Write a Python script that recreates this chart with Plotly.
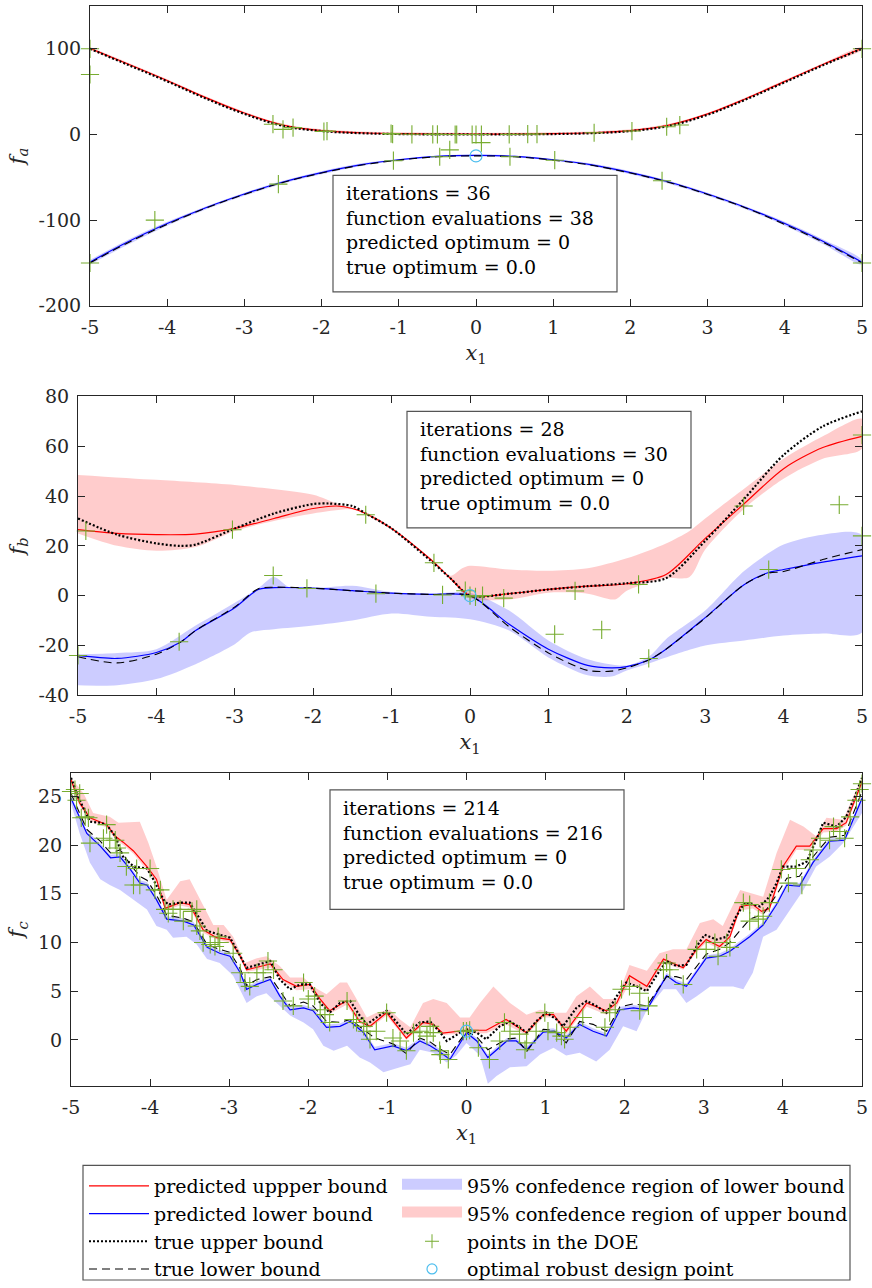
import plotly.graph_objects as go

W, H = 872, 1288
FONT = "DejaVu Serif"
AXC = "#262626"

# ---------------- panel a ----------------
xa = [-5, -4.5, -4, -3.5, -3, -2.5, -2, -1.5, -1, -0.5, 0, 0.5, 1, 1.5, 2, 2.5, 3, 3.5, 4, 4.5, 5]
a_true_up = [100, 81, 62, 42, 24, 10, 4, 1.5, 0.5, 0.1, 0, 0.1, 0.5, 1.5, 4, 10, 23, 41, 61, 81, 100]
a_pred_up = [100.5, 82, 63, 43, 25, 11, 4.5, 2, 1, 0.5, 0.3, 0.5, 1, 2, 4.5, 11, 24, 42, 62, 82, 100.5]
a_bup_hi = [102, 83.5, 64.5, 44.5, 26.5, 12.5, 6, 3.5, 2.5, 2, 1.8, 2, 2.5, 3.5, 6, 12.5, 25.5, 43.5, 63.5, 83.5, 102]
a_bup_lo = [99, 80.5, 61.5, 41.5, 23.5, 9.5, 3, 0.5, -0.5, -1, -1.2, -1, -0.5, 0.5, 3, 9.5, 22.5, 40.5, 60.5, 80.5, 99]
a_true_lo = [-150, -126, -105, -86, -70, -56, -45, -36, -30, -26, -25, -26, -30, -36, -45, -56, -70, -86, -105, -126, -150]
a_pred_lo = [-149, -125, -104, -85.5, -69.5, -55.5, -44.5, -35.5, -29.5, -25.5, -24.5, -25.5, -29.5, -35.5, -44.5, -55.5, -69.5, -85.5, -104, -125, -149]
a_blo_hi = [-146.5, -122.5, -102, -84, -68, -54, -43, -34, -28.5, -24.5, -23.5, -24.5, -28.5, -34, -43, -54, -68, -84, -102, -122.5, -146.5]
a_blo_lo = [-152, -128, -106.5, -87.5, -71.5, -57.5, -46.5, -37, -30.5, -26.5, -25.5, -26.5, -30.5, -37, -46.5, -57.5, -71.5, -87.5, -106.5, -128, -152]
a_doe_x = [-5, -5, -5, -4.16, -2.63, -2.56, -2.5, -2.37, -1.97, -1.93, -1.1, -1.08, -1.07, -0.83, -0.56,
           -0.5, -0.47, -0.34, -0.27, -0.25, -0.05, 0.0, 0.07, 0.07, 0.43, 0.44, 0.67, 0.79, 1.02, 1.53,
           2.02, 2.41, 2.47, 2.64, 5, 5]
a_doe_y = [100, 70, -150, -100, 12, -58, 6, 8, 3.5, 4, 1, 0.5, -30.6, 0.2, 0.1,
           0.1, -26, -18, 0, 0, 0, 0, 0, -9.5, 0.1, -26, 0.3, 0.5, -30, 2,
           4, -54, 9, 11, 100, -150]
a_opt_x = [0]
a_opt_y = [-25]
a_text = ["iterations = 36", "function evaluations = 38", "predicted optimum = 0", "true optimum = 0.0"]

# ---------------- panel b ----------------
b_tu_x = [-5, -4.5, -4, -3.7, -3.5, -3, -2.5, -2, -1.8, -1.5, -1.33, -1, -0.5, -0.25, 0, 0.5, 1, 1.5, 2, 2.5, 3, 3.5, 4, 4.5, 5]
b_tu_y = [31, 24.5, 21, 20, 20.5, 27, 33, 36.8, 37, 36, 33, 27, 14, 7, 0, 0.8, 2.5, 3.8, 5, 7, 22, 39, 56.5, 68, 74]
b_pu_x = [-5, -4.5, -4, -3.5, -3, -2.5, -2, -1.7, -1.5, -1.33, -1, -0.5, -0.25, 0, 0.5, 1, 1.5, 2, 2.5, 3, 3.5, 4, 4.5, 5]
b_pu_y = [26.5, 25, 24.5, 24.7, 27, 31, 35, 36, 35, 33, 27, 14.5, 7, 0, 0.8, 2.5, 3.8, 4.8, 8.5, 23, 37, 51, 59.5, 64]
b_bu_hi_x = [-5, -4, -3, -2, -1.7, -1.33, -1, -0.5, -0.25, -0.1, 0, 0.5, 1, 1.5, 2, 2.5, 2.8, 3, 3.5, 4, 4.5, 5]
b_bu_hi_y = [48.5, 46.5, 44.4, 40.5, 37, 33.5, 27.5, 15, 8, 11, 12, 10.5, 10, 11, 15, 21, 26, 31, 43, 55, 64, 71]
b_bu_lo_x = [-5, -4.5, -4, -3.5, -3, -2.5, -2, -1.5, -1.33, -1, -0.5, -0.25, 0, 0.5, 1, 1.5, 1.85, 2, 2.5, 2.8, 3, 3.5, 4, 4.5, 5]
b_bu_lo_y = [25, 20, 18, 19.5, 26, 30, 33, 34.6, 32.5, 26.5, 14, 6.5, -1, -1.5, 1.2, 0.8, -1.5, 2, 7, 7.5, 18.5, 35, 47, 55, 59]
b_pl_x = [-5, -4.5, -4, -3.7, -3.5, -3, -2.7, -2.5, -2, -1.5, -1, -0.5, 0, 0.5, 1, 1.5, 1.8, 2, 2.3, 2.5, 3, 3.5, 3.8, 4, 4.5, 5]
b_pl_y = [-24, -25.2, -22.8, -18.8, -14, -4.8, 2.5, 3.2, 3, 2, 1, 0.5, 0, -11.5, -21.5, -28, -29, -28.5, -25.5, -21.5, -8.8, 4.5, 9.2, 10.5, 13.5, 16]
b_tl_y = [-24.5, -27, -23.5, -18.8, -14, -4.5, 2.8, 3.4, 3, 2, 1, 0.5, 0, -12.5, -23, -30, -30.3, -29, -25.5, -21.5, -9, 4.5, 9, 9.7, 14.5, 18.5]
b_bl_hi_x = [-5, -4.5, -4, -3.5, -3, -2.7, -2.5, -2.3, -2, -1.5, -1, -0.5, 0, 0.5, 1, 1.5, 2, 2.3, 2.5, 3, 3.5, 4, 4.5, 5]
b_bl_hi_y = [-23.5, -23, -21.5, -12, -2.8, 3, 7.5, 3.3, 3, 4, 1.5, 0.8, 1.2, -6, -18, -25.5, -28, -24, -17.5, -6, 10, 20.5, 24.5, 24.3]
b_bl_lo_x = [-5, -4.5, -4, -3.5, -3, -2.8, -2.5, -2, -1.5, -1, -0.5, 0, 0.5, 1, 1.5, 1.8, 2, 2.3, 2.5, 3, 3.5, 4, 4.5, 5]
b_bl_lo_y = [-36, -36, -33.5, -27.5, -19.5, -14.8, -13.5, -12, -10, -7.2, -8.5, -9.5, -14, -24.8, -32, -32.5, -30, -27, -24.8, -20, -18, -16, -15.2, -14.8]
b_doe_x = [-5, -4.9, -3.71, -3.03, -2.51, -2.08, -1.33, -1.2, -0.46, -0.35, -0.06, 0, 0.07, 0.16, 0.43,
           1.08, 1.34, 1.68, 2.15, 2.28, 3.49, 3.81, 4.71, 5, 5]
b_doe_y = [-24, 26, -18.5, 26.5, 8.1, 2.9, 32.5, 0.8, 13.2, 0.3, 2, 0, -0.5, 0, -1,
           -15.5, 1.9, -13.7, 4.5, -25.2, 36, 10.5, 36.5, 64.5, 24]
b_opt_x = [0]
b_opt_y = [0]
b_text = ["iterations = 28", "function evaluations = 30", "predicted optimum = 0", "true optimum = 0.0"]

# ---------------- panel c ----------------
c_tu_x = [-5, -4.89, -4.76, -4.63, -4.55, -4.44, -4.34, -4.21, -4.04, -3.96, -3.83, -3.77, -3.62, -3.5, -3.37,
          -3.28, -3.12, -2.99, -2.86, -2.78, -2.65, -2.48, -2.36, -2.23, -2.1, -1.98, -1.85, -1.73, -1.6, -1.47,
          -1.35, -1.26, -1.14, -1.01, -0.88, -0.76, -0.59, -0.46, -0.33, -0.25, -0.08, 0, 0.13, 0.25, 0.42,
          0.55, 0.67, 0.76, 0.88, 1.01, 1.14, 1.22, 1.39, 1.52, 1.64, 1.77, 1.9, 2.02, 2.15, 2.28,
          2.4, 2.53, 2.65, 2.78, 2.91, 3.01, 3.16, 3.29, 3.41, 3.52, 3.71, 3.83, 3.92, 4.0, 4.17,
          4.3, 4.42, 4.51, 4.68, 4.8, 4.91, 5.0]
c_tu_y = [26.9, 24.6, 22.4, 22.3, 22.1, 20.9, 18.8, 17.8, 17.6, 16.5, 14.4, 13.9, 14.1, 14.1, 12.4,
          11.2, 10.8, 10.5, 8.6, 7.4, 7.7, 8.1, 6.2, 5.2, 5.7, 5.7, 3.8, 2.8, 3.8, 4.0,
          2.5, 1.6, 2.3, 3.0, 1.8, 0.6, 1.8, 1.9, 0.75, -0.1, 0.75, 1.1, 0.75, 0.07, 1.4,
          1.9, 1.3, 0.75, 1.9, 2.8, 2.1, 1.4, 3.3, 4.0, 3.5, 2.8, 4.5, 5.9, 5.5, 5.0,
          6.6, 8.1, 7.6, 7.7, 9.6, 10.8, 10.3, 10.6, 12.7, 14.1, 13.7, 14.7, 16.1, 17.8, 17.8,
          18.3, 20.5, 22.3, 21.9, 22.9, 25.0, 26.9]
c_pu_x = [-5, -4.89, -4.76, -4.55, -4.44, -4.34, -4.21, -4.04, -3.92, -3.81, -3.62, -3.5, -3.33, -3.16, -2.99,
          -2.86, -2.78, -2.48, -2.32, -2.15, -1.98, -1.85, -1.73, -1.52, -1.35, -1.22, -1.01, -0.76, -0.55, -0.42,
          -0.3, 0, 0.25, 0.5, 0.76, 0.97, 1.1, 1.26, 1.52, 1.77, 1.9, 2.06, 2.28, 2.49, 2.74,
          2.91, 3.03, 3.2, 3.33, 3.46, 3.62, 3.73, 3.83, 4.0, 4.17, 4.34, 4.51, 4.68, 4.8, 5.0]
c_pu_y = [26.7, 24.3, 22.8, 22.1, 20.9, 20.3, 19.4, 17.8, 16.5, 13.5, 14.1, 13.9, 11.3, 10.5, 10.3,
          8.6, 7.2, 7.8, 6.2, 5.5, 5.7, 4.2, 3.0, 4.0, 1.9, 1.4, 2.8, 0.2, 1.8, 1.6,
          0.7, 1.0, 1.0, 2.1, 0.75, 2.6, 2.6, 0.9, 3.8, 3.0, 3.8, 6.6, 5.5, 8.3, 7.4,
          9.3, 10.3, 9.6, 10.6, 13.7, 13.9, 13.2, 13.5, 17.8, 19.9, 19.9, 21.7, 21.7, 22.3, 26.5]
c_bu_hi_x = [-5, -4.84, -4.72, -4.51, -4.4, -4.13, -4.02, -3.92, -3.79, -3.62, -3.5, -3.37, -3.2, -3.07, -2.95,
             -2.8, -2.65, -2.53, -2.36, -2.23, -2.06, -1.94, -1.77, -1.6, -1.51, -1.39, -1.26, -1.14, -0.97, -0.84,
             -0.71, -0.55, -0.42, -0.25, -0.08, 0.04, 0.17, 0.34, 0.55, 0.76, 0.93, 1.1, 1.26, 1.39, 1.56,
             1.73, 1.9, 2.06, 2.28, 2.44, 2.61, 2.78, 2.95, 3.12, 3.24, 3.46, 3.58, 3.75, 3.92, 4.09,
             4.26, 4.42, 4.55, 4.76, 5.0]
c_bu_hi_y = [26.9, 25.3, 23.3, 22.9, 22.3, 22.4, 20.2, 17.8, 14.4, 16.3, 16.5, 14.4, 11.8, 11.8, 10.6,
             7.9, 8.4, 8.6, 7.6, 6.4, 6.4, 5.5, 4.7, 5.9, 5.9, 4.2, 2.3, 2.8, 3.1, 2.1,
             1.3, 3.8, 4.2, 3.8, 2.3, 2.3, 3.8, 5.5, 3.8, 2.6, 3.1, 2.8, 2.8, 4.5, 5.5,
             4.2, 4.2, 7.7, 7.1, 8.9, 9.3, 9.3, 12.0, 12.4, 11.7, 15.4, 15.1, 14.7, 19.2, 22.6,
             21.9, 20.9, 22.8, 22.6, 27.0]
c_bu_lo_y = [26.3, 24.0, 22.5, 21.8, 20.6, 20.0, 19.1, 17.4, 16.2, 13.3, 13.8, 13.6, 11.0, 10.3, 10.0,
             8.3, 7.0, 7.4, 6.0, 5.1, 5.2, 3.9, 2.7, 3.6, 1.7, 1.2, 2.5, 0.0, 1.5, 1.3,
             0.5, 0.7, 0.7, 1.6, 0.5, 2.3, 2.3, 0.6, 3.4, 2.6, 3.4, 5.8, 5.0, 7.9, 7.2,
             9.0, 10.0, 9.3, 10.3, 13.3, 13.5, 12.9, 13.2, 17.3, 19.5, 19.5, 21.3, 21.4, 22.0, 26.2]
c_pl_x = [-5, -4.89, -4.8, -4.63, -4.5, -4.38, -4.25, -4.13, -4.04, -3.92, -3.79, -3.58, -3.45, -3.28, -3.12,
          -2.99, -2.86, -2.78, -2.65, -2.48, -2.36, -2.23, -2.06, -1.94, -1.77, -1.6, -1.47, -1.3, -1.16, -0.93,
          -0.76, -0.59, -0.46, -0.34, -0.21, 0, 0.13, 0.27, 0.51, 0.63, 0.76, 0.97, 1.1, 1.26, 1.43,
          1.6, 1.77, 1.94, 2.11, 2.28, 2.53, 2.65, 2.78, 3.03, 3.2, 3.33, 3.58, 3.75, 3.92, 4.05,
          4.21, 4.38, 4.59, 4.78, 5.0]
c_pl_y = [24.8, 22.9, 21.2, 19.9, 18.7, 18.8, 17.5, 16.1, 15.9, 14.4, 12.4, 12.2, 11.8, 9.5, 8.9,
          8.6, 6.9, 5.2, 5.7, 6.2, 4.5, 3.1, 3.3, 3.0, 1.3, 1.4, 1.9, 0.75, -1.0, -0.6,
          -1.1, -0.1, -0.6, -1.2, -2.0, 0.75, -0.1, -1.8, -0.1, -0.1, -1.0, 0.8, 0.9, 0.2, 1.6,
          0.9, 0.4, 3.1, 3.3, 3.1, 6.6, 5.9, 5.5, 8.4, 8.6, 9.1, 10.6, 11.8, 13.9, 15.9,
          15.8, 18.2, 20.4, 20.5, 24.8]
c_tl_y = [25.3, 23.3, 21.6, 20.4, 19.2, 19.5, 18.0, 16.8, 16.4, 14.9, 12.8, 12.5, 12.1, 9.8, 9.3,
          9.0, 7.3, 5.6, 6.2, 6.5, 5.0, 3.5, 3.9, 3.5, 1.9, 1.8, 2.1, 1.1, 0.2, -0.4,
          -1.4, 0.2, -0.2, -0.9, -1.5, 0.9, 0.3, -1.0, 0.1, 0.2, -1.2, 1.1, 1.0, -0.3, 1.9,
          1.6, 0.9, 3.4, 3.7, 3.5, 6.5, 6.5, 6.2, 8.8, 9.3, 10.0, 12.4, 12.9, 14.9, 16.6,
          16.8, 18.8, 20.8, 21.0, 25.5]
c_bl_hi_y = [25.1, 23.2, 21.5, 20.2, 19.0, 19.1, 17.8, 16.4, 16.2, 14.7, 12.7, 12.5, 12.1, 9.8, 9.2,
             8.9, 7.2, 5.5, 6.0, 6.5, 4.8, 3.4, 3.6, 3.3, 1.6, 1.7, 2.2, 1.0, -0.7, -0.3,
             -0.8, 0.2, -0.3, -0.9, -1.7, 1.0, 0.2, -1.5, 0.2, 0.2, -0.7, 1.1, 1.2, 0.5, 1.9,
             1.2, 0.7, 3.4, 3.6, 3.4, 6.9, 6.2, 5.8, 8.7, 8.9, 9.4, 10.9, 12.1, 14.2, 16.2,
             16.1, 18.5, 20.7, 20.8, 25.1]
c_bl_lo_x = [-5, -4.89, -4.76, -4.63, -4.51, -4.38, -4.21, -4.04, -3.92, -3.79, -3.71, -3.54, -3.41, -3.28, -3.12,
             -2.95, -2.78, -2.65, -2.53, -2.4, -2.23, -2.06, -1.94, -1.81, -1.68, -1.51, -1.35, -1.22, -1.05, -0.84,
             -0.71, -0.59, -0.42, -0.25, -0.13, 0, 0.17, 0.27, 0.38, 0.55, 0.76, 0.93, 1.1, 1.26, 1.43,
             1.64, 1.81, 1.98, 2.15, 2.28, 2.49, 2.65, 2.78, 2.91, 3.08, 3.24, 3.37, 3.5, 3.62, 3.75,
             3.92, 4.09, 4.26, 4.42, 4.59, 4.76, 5.0]
c_bl_lo_y = [24.3, 21.2, 18.2, 16.5, 15.9, 15.4, 14.4, 13.4, 11.7, 11.3, 10.5, 10.6, 9.8, 8.3, 7.9,
             6.6, 3.8, 4.5, 4.8, 3.8, 2.5, 1.8, 1.1, -0.6, -1.1, -0.6, -1.8, -2.3, -3.3, -2.8,
             -2.5, -1.0, -1.3, -2.3, -1.6, -0.3, -1.6, -4.5, -3.7, -2.8, -2.7, -1.5, -0.8, -1.6, -1.3,
             -2.2, -1.0, 1.4, 0.9, 3.1, 5.2, 5.2, 3.8, 4.5, 5.5, 5.5, 5.5, 5.2, 6.9, 10.6,
             11.3, 13.4, 15.4, 17.8, 18.8, 20.2, 23.3]
c_doe_x = [-5, -4.95, -4.89, -4.93, -4.82, -4.78, -4.87, -4.76, -4.59, -4.55, -4.51, -4.44, -4.42, -4.38, -4.3,
           -4.21, -4.13, -4.17, -4.0, -3.94, -3.87, -3.81, -3.77, -3.71, -3.62, -3.58, -3.47, -3.41, -3.41, -3.37,
           -3.33, -3.24, -3.18, -3.14, -3.12, -2.95, -2.86, -2.8, -2.74, -2.65, -2.57, -2.51, -2.44, -2.32, -2.19,
           -2.06, -2.0, -1.92, -1.85, -1.79, -1.73, -1.51, -1.43, -1.39, -1.3, -1.26, -1.22, -1.14, -1.01, -0.93,
           -0.84, -0.76, -0.67, -0.59, -0.5, -0.42, -0.33, -0.46, -0.34, -0.23, -0.04, 0.0, 0.04, 0.15, 0.29,
           0.42, 0.48, 0.55, 0.67, 0.74, 0.76, 0.88, 0.99, 1.03, 1.14, 1.2, 1.24, 1.31, 1.47, 1.75,
           1.81, 1.88, 1.96, 2.06, 2.19, 2.19, 2.3, 2.49, 2.53, 2.57, 2.74, 2.91, 3.03, 3.14, 3.18,
           3.29, 3.33, 3.5, 3.58, 3.58, 3.69, 3.75, 3.83, 3.98, 4.07, 4.24, 4.17, 4.34, 4.38, 4.47,
           4.59, 4.64, 4.72, 4.78, 4.85, 4.93, 4.97, 5.0]
c_doe_y = [25.5, 25.7, 25.3, 24.6, 22.9, 22.8, 22.8, 20.2, 20.7, 22.1, 20.5, 20.5, 19.7, 19.2, 17.8,
           15.9, 15.9, 17.6, 17.6, 15.4, 15.4, 13.4, 13.0, 13.4, 13.4, 12.2, 13.2, 13.4, 11.7, 11.2,
           10.0, 9.8, 9.6, 10.6, 10.0, 8.9, 6.9, 5.9, 5.5, 6.9, 6.9, 8.1, 7.2, 4.0, 3.5,
           5.9, 4.2, 4.5, 3.1, 2.6, 1.8, 4.0, 2.1, 1.8, 1.4, 0.9, 0.07, 0.9, 2.8, 0.2,
           -0.1, -1.1, 0.75, 0.9, 0.4, 0.75, -1.5, 1.4, -1.1, -2.0, 0.9, 0.9, 1.0, -0.8, -2.0,
           -0.1, 1.8, 0.9, 0.6, -1.0, -0.3, 0.9, 2.8, 0.9, 0.75, 0.4, 0.07, 1.3, 2.3, 1.3,
           2.8, 3.1, 5.2, 5.5, 4.8, 3.0, 3.5, 7.2, 7.9, 7.2, 5.7, 9.3, 9.3, 10.0, 8.6,
           10.0, 9.5, 14.1, 13.9, 12.2, 12.4, 12.7, 14.1, 17.5, 16.1, 15.9, 17.6, 18.5, 19.5, 20.7,
           20.5, 21.9, 21.4, 20.7, 22.9, 24.6, 25.7, 26.3]
c_opt_x = [0]
c_opt_y = [0.9]
c_text = ["iterations = 214", "function evaluations = 216", "predicted optimum = 0", "true optimum = 0.0"]

# ---------------- styling ----------------
RED = "rgb(255,0,0)"
BLUE = "rgb(0,0,255)"
RED_FILL = "rgba(255,0,0,0.2)"
BLUE_FILL = "rgba(0,0,255,0.2)"
RED_PATCH = "rgb(255,204,204)"
BLUE_PATCH = "rgb(204,204,255)"
GREEN = "#77AC30"
CYAN = "#4DBEEE"

fig = go.Figure()


def add_panel(k, x_up, y_up, x_pu, y_pu, bu_hx, bu_hy, bu_lx, bu_ly,
              x_tl, y_tl, x_pl, y_pl, bl_hx, bl_hy, bl_lx, bl_ly,
              dx, dy, ox, oy, shape, smooth):
    xr = "x" if k == 1 else f"x{k}"
    yr = "y" if k == 1 else f"y{k}"
    show = (k == 1)
    ls = dict(shape=shape, smoothing=smooth) if shape == "spline" else dict(shape="linear")
    fig.add_trace(go.Scatter(
        x=list(bl_hx) + list(bl_lx)[::-1], y=list(bl_hy) + list(bl_ly)[::-1],
        fill="toself", fillcolor=BLUE_FILL, mode="lines", line=dict(width=0, **ls),
        showlegend=False, xaxis=xr, yaxis=yr, hoverinfo="skip"))
    fig.add_trace(go.Scatter(
        x=list(bu_hx) + list(bu_lx)[::-1], y=list(bu_hy) + list(bu_ly)[::-1],
        fill="toself", fillcolor=RED_FILL, mode="lines", line=dict(width=0, **ls),
        showlegend=False, xaxis=xr, yaxis=yr, hoverinfo="skip"))
    fig.add_trace(go.Scatter(
        x=x_pu, y=y_pu, mode="lines", line=dict(color=RED, width=1.2, **ls),
        name="predicted uppper bound", legend="legend", legendrank=1, showlegend=show,
        xaxis=xr, yaxis=yr))
    fig.add_trace(go.Scatter(
        x=x_pl, y=y_pl, mode="lines", line=dict(color=BLUE, width=1.2, **ls),
        name="predicted lower bound", legend="legend", legendrank=2, showlegend=show,
        xaxis=xr, yaxis=yr))
    fig.add_trace(go.Scatter(
        x=x_up, y=y_up, mode="lines", line=dict(color="black", width=2.2, dash="2px,2px", **ls),
        name="true upper bound", legend="legend", legendrank=3, showlegend=show,
        xaxis=xr, yaxis=yr))
    fig.add_trace(go.Scatter(
        x=x_tl, y=y_tl, mode="lines", line=dict(color="black", width=1.1, dash="8px,5px", **ls),
        name="true lower bound", legend="legend", legendrank=4, showlegend=show,
        xaxis=xr, yaxis=yr))
    fig.add_trace(go.Scatter(
        x=dx, y=dy, mode="markers",
        marker=dict(symbol="cross-thin", size=13, color=GREEN, line=dict(color=GREEN, width=1.1)),
        showlegend=False, xaxis=xr, yaxis=yr, cliponaxis=False))
    fig.add_trace(go.Scatter(
        x=ox, y=oy, mode="markers",
        marker=dict(symbol="circle-open", size=12, color=CYAN, line=dict(color=CYAN, width=1.2)),
        showlegend=False, xaxis=xr, yaxis=yr))


add_panel(1, xa, a_true_up, xa, a_pred_up, xa, a_bup_hi, xa, a_bup_lo,
          xa, a_true_lo, xa, a_pred_lo, xa, a_blo_hi, xa, a_blo_lo,
          a_doe_x, a_doe_y, a_opt_x, a_opt_y, "spline", 1.0)
add_panel(2, b_tu_x, b_tu_y, b_pu_x, b_pu_y, b_bu_hi_x, b_bu_hi_y, b_bu_lo_x, b_bu_lo_y,
          b_pl_x, b_tl_y, b_pl_x, b_pl_y, b_bl_hi_x, b_bl_hi_y, b_bl_lo_x, b_bl_lo_y,
          b_doe_x, b_doe_y, b_opt_x, b_opt_y, "spline", 0.8)
add_panel(3, c_tu_x, c_tu_y, c_pu_x, c_pu_y, c_bu_hi_x, c_bu_hi_y, c_pu_x, c_bu_lo_y,
          c_pl_x, c_tl_y, c_pl_x, c_pl_y, c_pl_x, c_bl_hi_y, c_bl_lo_x, c_bl_lo_y,
          c_doe_x, c_doe_y, c_opt_x, c_opt_y, "linear", 0)

# legend-only entries for the second legend column
fig.add_trace(go.Scatter(x=[None], y=[None], mode="lines", fill="toself", fillcolor=BLUE_PATCH,
                         line=dict(color=BLUE_PATCH, width=10),
                         name="95% confedence region of lower bound", legend="legend2", legendrank=1))
fig.add_trace(go.Scatter(x=[None], y=[None], mode="lines", fill="toself", fillcolor=RED_PATCH,
                         line=dict(color=RED_PATCH, width=10),
                         name="95% confedence region of upper bound", legend="legend2", legendrank=2))
fig.add_trace(go.Scatter(x=[None], y=[None], mode="markers",
                         marker=dict(symbol="cross-thin", size=10, color=GREEN, line=dict(color=GREEN, width=1)),
                         name="points in the DOE", legend="legend2", legendrank=3))
fig.add_trace(go.Scatter(x=[None], y=[None], mode="markers",
                         marker=dict(symbol="circle-open", size=10, color=CYAN, line=dict(color=CYAN, width=1.2)),
                         name="optimal robust design point", legend="legend2", legendrank=4))


def px(v):
    return v / W


def py(v):
    return 1 - v / H


xticks = [-5, -4, -3, -2, -1, 0, 1, 2, 3, 4, 5]
xtick_text = [str(t) for t in xticks]
ya_ticks = [-200, -100, 0, 100]
yb_ticks = [-40, -20, 0, 20, 40, 60, 80]
yc_ticks = [0, 5, 10, 15, 20, 25]

panels = [
    # (x-left px, top px, bottom px, y-range, yticks, ylabel)
    (90, 6, 307, [-200, 150], ya_ticks, "<i>f</i><sub><i>a</i></sub>"),
    (78, 398, 698, [-40, 80], yb_ticks, "<i>f</i><sub><i>b</i></sub>"),
    (71, 776, 1090, [-4.7, 27.4], yc_ticks, "<i>f</i><sub><i>c</i></sub>"),
]
axis_common = dict(showgrid=False, zeroline=False, showline=True, linecolor=AXC, linewidth=1,
                   mirror="ticks", ticks="inside", ticklen=7, tickwidth=1, tickcolor=AXC,
                   automargin=False, tickfont=dict(family=FONT, size=19, color=AXC))
layout_axes = {}
for i, (xl, top, bot, yr, yt, ylab) in enumerate(panels, start=1):
    xn = "xaxis" if i == 1 else f"xaxis{i}"
    yn = "yaxis" if i == 1 else f"yaxis{i}"
    yanchor = "y" if i == 1 else f"y{i}"
    xanchor = "x" if i == 1 else f"x{i}"
    layout_axes[xn] = dict(axis_common, domain=[px(xl), px(862)], range=[-5, 5], anchor=yanchor,
                           tickvals=xticks, ticktext=xtick_text, ticklabelstandoff=4,
                           title=dict(text="<i>x</i><sub>1</sub>", standoff=8,
                                      font=dict(family=FONT, size=21, color=AXC)))
    layout_axes[yn] = dict(axis_common, domain=[py(bot), py(top)], range=yr, anchor=xanchor,
                           tickvals=yt, ticktext=[str(t) for t in yt], ticklabelstandoff=4,
                           title=dict(text=ylab, standoff=8,
                                      font=dict(family=FONT, size=21, color=AXC)))

# info boxes and legend frame
boxes = [
    (333, 176, 617, 293, a_text),
    (407, 413, 691, 530, b_text),
    (330, 793, 624, 913, c_text),
]
shapes = []
annotations = []
for (l, t, r, b, lines) in boxes:
    shapes.append(dict(type="rect", xref="paper", yref="paper", x0=px(l), x1=px(r), y0=py(b), y1=py(t),
                       line=dict(color="#555555", width=1.2), fillcolor="white", layer="above"))
    annotations.append(dict(xref="paper", yref="paper", x=px(l + 11), y=py(t + 5), xanchor="left",
                            yanchor="top", align="left", showarrow=False, text="<br>".join(lines),
                            font=dict(family=FONT, size=19, color="black")))
shapes.append(dict(type="rect", xref="paper", yref="paper", x0=px(83), x1=px(850), y0=py(1285), y1=py(1170),
                   line=dict(color="#555555", width=1.2), fillcolor="white", layer="below"))

leg_common = dict(orientation="v", xanchor="left", yanchor="top", itemwidth=60,
                  bgcolor="rgba(0,0,0,0)", borderwidth=0, traceorder="normal",
                  font=dict(family=FONT, size=19, color="black"))
fig.update_layout(
    template="none",
    width=W, height=H, margin=dict(l=0, r=0, t=0, b=0),
    paper_bgcolor="white", plot_bgcolor="rgba(0,0,0,0)",
    font=dict(family=FONT, size=19, color="black"),
    shapes=shapes, annotations=annotations,
    legend=dict(leg_common, x=px(84), y=py(1172)),
    legend2=dict(leg_common, x=px(397), y=py(1172)),
    **layout_axes,
)

fig.write_html("out.html")
